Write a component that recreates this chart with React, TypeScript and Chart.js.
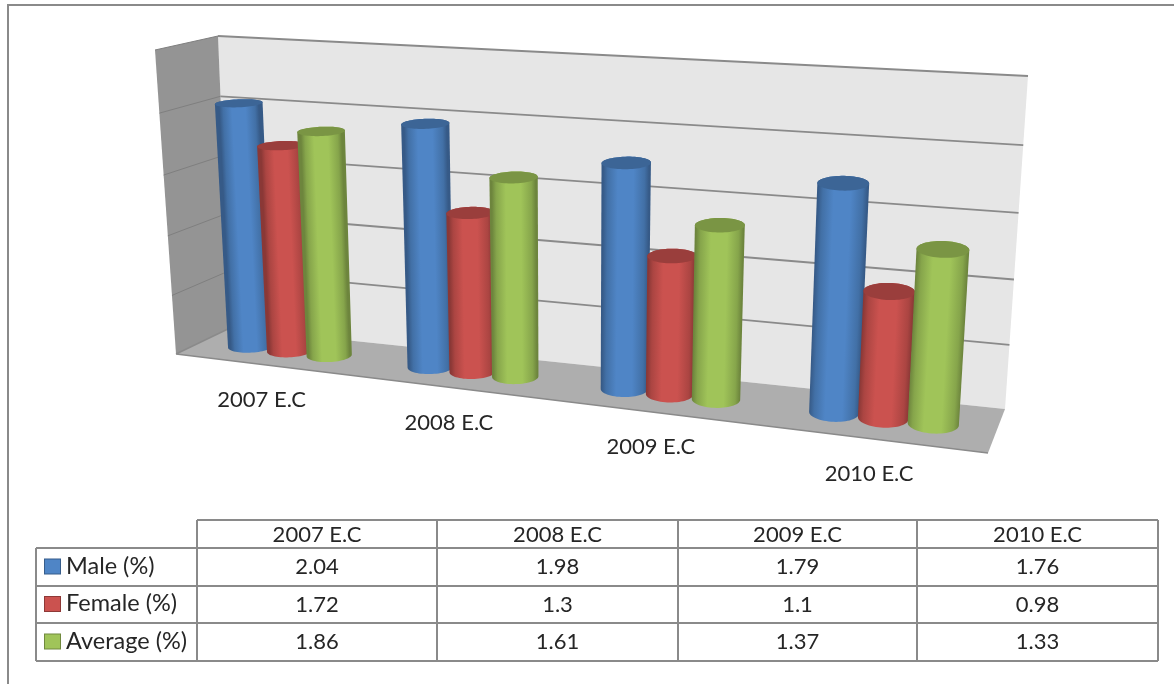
import React, { useEffect, useRef } from "react";
import { Chart, BarController, registerables } from "chart.js";

Chart.register(...registerables);

const categories = ["2007 E.C", "2008 E.C", "2009 E.C", "2010 E.C"];
const maleValues = [2.04, 1.98, 1.79, 1.76];
const femaleValues = [1.72, 1.3, 1.1, 0.98];
const averageValues = [1.86, 1.61, 1.37, 1.33];
const seriesNames = ["Male (%)", "Female (%)", "Average (%)"];
const seriesColors = ["#4F85C6", "#CB524F", "#A0C459"];
const tableValueLabels = [
  ["2.04", "1.98", "1.79", "1.76"],
  ["1.72", "1.3", "1.1", "0.98"],
  ["1.86", "1.61", "1.37", "1.33"],
];

type P = [number, number];
const FONT = "Lato, 'Open Sans', sans-serif";
const LINE = "#8a8a8a";

// Projective map from the unit square to a quad (order: u0v0, u1v0, u1v1, u0v1)
function makeHomography(q: P[]) {
  const [p0, p1, p2, p3] = q;
  const dx1 = p1[0] - p2[0], dx2 = p3[0] - p2[0], sx = p0[0] - p1[0] + p2[0] - p3[0];
  const dy1 = p1[1] - p2[1], dy2 = p3[1] - p2[1], sy = p0[1] - p1[1] + p2[1] - p3[1];
  const den = dx1 * dy2 - dx2 * dy1;
  const g = (sx * dy2 - dx2 * sy) / den;
  const h = (dx1 * sy - sx * dy1) / den;
  const a = p1[0] - p0[0] + g * p1[0], b = p3[0] - p0[0] + h * p3[0], c = p0[0];
  const d = p1[1] - p0[1] + g * p1[1], e = p3[1] - p0[1] + h * p3[1], f = p0[1];
  return (u: number, v: number): P => {
    const w = g * u + h * v + 1;
    return [(a * u + b * v + c) / w, (d * u + e * v + f) / w];
  };
}

const backPlane = makeHomography([[230, 328], [1005, 409], [1028, 76], [218, 36]]);
const frontPlane = makeHomography([[176, 354], [988, 453], [1009, 108], [155, 50]]);

function project(uRaw: number, v: number, depth: number): P {
  const u = uRaw - 0.018 * uRaw * (1 - uRaw);
  const b = backPlane(u, v);
  const f = frontPlane(u, v);
  return [b[0] + (f[0] - b[0]) * depth, b[1] + (f[1] - b[1]) * depth];
}

function shade(hex: string, k: number) {
  const n = parseInt(hex.slice(1), 16);
  const c = [(n >> 16) & 255, (n >> 8) & 255, n & 255].map((x) =>
    Math.round(k < 1 ? x * k : x + (255 - x) * (k - 1))
  );
  return `rgb(${c[0]},${c[1]},${c[2]})`;
}

function hull(points: P[]): P[] {
  const pts = [...points].sort((a, b) => a[0] - b[0] || a[1] - b[1]);
  const cross = (o: P, a: P, b: P) => (a[0] - o[0]) * (b[1] - o[1]) - (a[1] - o[1]) * (b[0] - o[0]);
  const lo: P[] = [], up: P[] = [];
  for (const p of pts) {
    while (lo.length > 1 && cross(lo[lo.length - 2], lo[lo.length - 1], p) <= 0) lo.pop();
    lo.push(p);
  }
  for (let i = pts.length - 1; i >= 0; i--) {
    const p = pts[i];
    while (up.length > 1 && cross(up[up.length - 2], up[up.length - 1], p) <= 0) up.pop();
    up.push(p);
  }
  return lo.slice(0, -1).concat(up.slice(0, -1));
}

function polygon(ctx: CanvasRenderingContext2D, pts: P[]) {
  ctx.beginPath();
  pts.forEach((p, i) => (i ? ctx.lineTo(p[0], p[1]) : ctx.moveTo(p[0], p[1])));
  ctx.closePath();
}

const DEPTH_RADIUS = 0.22;

function drawCylinder(ctx: CanvasRenderingContext2D, chart: any, el: any, color: string) {
  const area = chart.chartArea;
  const uc = (el.x - area.left) / area.width;
  const ru = el.width / 2 / area.width;
  const vTop = (area.bottom - el.y) / area.height;
  const vBase = (area.bottom - el.base) / area.height;
  const ring = (v: number) => {
    const out: P[] = [];
    for (let i = 0; i < 64; i++) {
      const t = (i / 64) * Math.PI * 2;
      out.push(project(uc + ru * Math.cos(t), v, 0.5 + DEPTH_RADIUS * Math.sin(t)));
    }
    return out;
  };
  const top = ring(vTop);
  const bottom = ring(vBase);
  const ct = project(uc, vTop, 0.5);
  const cb = project(uc, vBase, 0.5);
  const ax = cb[0] - ct[0], ay = cb[1] - ct[1];
  const len = Math.hypot(ax, ay);
  const nx = ay / len, ny = -ax / len;
  const half = (Math.abs(project(uc + ru, vTop, 0.5)[0] - ct[0]) + Math.abs(project(uc + ru, vBase, 0.5)[0] - cb[0])) / 2;
  const mx = (ct[0] + cb[0]) / 2, my = (ct[1] + cb[1]) / 2;
  const g = ctx.createLinearGradient(mx - nx * half, my - ny * half, mx + nx * half, my + ny * half);
  g.addColorStop(0, shade(color, 0.68));
  g.addColorStop(0.1, shade(color, 0.84));
  g.addColorStop(0.32, shade(color, 1));
  g.addColorStop(0.66, shade(color, 1));
  g.addColorStop(0.9, shade(color, 0.84));
  g.addColorStop(1, shade(color, 0.68));
  polygon(ctx, hull(top.concat(bottom)));
  ctx.fillStyle = g;
  ctx.fill();
  polygon(ctx, top);
  ctx.fillStyle = shade(color, 0.76);
  ctx.fill();
}

class Cylinder3DController extends BarController {
  static id = "cylinder3d";
  static defaults = { ...BarController.defaults };
  draw() {
    if (this.index !== 0) return;
    const chart: any = this.chart;
    const ctx = chart.ctx;
    const metas = chart.getSortedVisibleDatasetMetas();
    metas.forEach((meta: any) => {
      meta.data.forEach((el: any) => {
        drawCylinder(ctx, chart, el, el.options.backgroundColor);
      });
    });
  }
}
Chart.register(Cylinder3DController as any);

const scenePlugin = {
  id: "scene3d",
  beforeDatasetsDraw(chart: any) {
    const ctx: CanvasRenderingContext2D = chart.ctx;
    const yScale = chart.scales.y;
    const area = chart.chartArea;
    ctx.save();
    // page frame
    ctx.fillStyle = "#ffffff";
    ctx.fillRect(0, 0, chart.width, chart.height);
    ctx.strokeStyle = LINE;
    ctx.lineWidth = 2;
    ctx.beginPath();
    ctx.moveTo(8, 684);
    ctx.lineTo(8, 5);
    ctx.lineTo(1174, 5);
    ctx.stroke();

    // back wall, floor and side wall
    polygon(ctx, [project(0, 0, 0), project(1, 0, 0), project(1, 1, 0), project(0, 1, 0)]);
    ctx.fillStyle = "#e6e6e6";
    ctx.fill();
    polygon(ctx, [project(0, 0, 1), project(0, 0, 0), project(1, 0, 0), project(1, 0, 1)]);
    ctx.fillStyle = "#aeaeae";
    ctx.fill();
    polygon(ctx, [project(0, 0, 1), project(0, 0, 0), project(0, 1, 0), project(0, 1, 1)]);
    ctx.fillStyle = "#949494";
    ctx.fill();

    // grid lines, from the value scale
    yScale.ticks.forEach((t: any) => {
      const v = (area.bottom - yScale.getPixelForValue(t.value)) / area.height;
      if (v <= 0.001) return;
      const a = project(0, v, 1), b = project(0, v, 0), c = project(1, v, 0);
      ctx.strokeStyle = "#7f7f7f";
      ctx.lineWidth = 1;
      ctx.beginPath();
      ctx.moveTo(a[0], a[1]);
      ctx.lineTo(b[0], b[1]);
      ctx.stroke();
      ctx.strokeStyle = LINE;
      ctx.lineWidth = 1.8;
      ctx.beginPath();
      ctx.moveTo(b[0], b[1]);
      ctx.lineTo(c[0], c[1]);
      ctx.stroke();
    });
    const fa = project(0, 0, 1), fb = project(1, 0, 1), fc = project(0, 0, 0);
    ctx.strokeStyle = LINE;
    ctx.lineWidth = 1.5;
    ctx.beginPath();
    ctx.moveTo(fa[0], fa[1]);
    ctx.lineTo(fb[0], fb[1]);
    ctx.moveTo(fa[0], fa[1]);
    ctx.lineTo(fc[0], fc[1]);
    ctx.stroke();
    ctx.restore();
  },
  afterDatasetsDraw(chart: any) {
    const ctx: CanvasRenderingContext2D = chart.ctx;
    const xScale = chart.scales.x;
    const area = chart.chartArea;
    const labels: string[] = chart.data.labels;
    ctx.save();
    ctx.fillStyle = "#262626";
    ctx.textAlign = "center";
    ctx.textBaseline = "middle";
    ctx.font = `22px ${FONT}`;
    // category labels under the floor's front edge
    labels.forEach((label, i) => {
      const u = (xScale.getPixelForValue(i) - area.left) / area.width;
      const p = project(u, 0, 1);
      ctx.fillText(label, p[0] - 3, p[1] + 35);
    });

    // data table
    const colX = [197, 437, 678, 917, 1158];
    const rowY = [520, 548, 586, 623, 661];
    const firstX = 36;
    ctx.strokeStyle = LINE;
    ctx.lineWidth = 2;
    ctx.beginPath();
    ctx.moveTo(colX[0], rowY[0]);
    ctx.lineTo(colX[4], rowY[0]);
    rowY.slice(1).forEach((y) => {
      ctx.moveTo(firstX, y);
      ctx.lineTo(colX[4], y);
    });
    colX.forEach((x) => {
      ctx.moveTo(x, rowY[0]);
      ctx.lineTo(x, rowY[4]);
    });
    ctx.moveTo(firstX, rowY[1]);
    ctx.lineTo(firstX, rowY[4]);
    ctx.stroke();

    labels.forEach((label, c) => {
      ctx.fillText(label, (colX[c] + colX[c + 1]) / 2, (rowY[0] + rowY[1]) / 2 + 1);
    });
    tableValueLabels.forEach((row, r) => {
      const cy = (rowY[r + 1] + rowY[r + 2]) / 2;
      ctx.font = `22px ${FONT}`;
      row.forEach((txt, c) => {
        ctx.fillText(txt, (colX[c] + colX[c + 1]) / 2, cy);
      });
      const color = chart.data.datasets[r].backgroundColor;
      ctx.fillStyle = color;
      ctx.fillRect(44.5, cy - 8, 16, 15);
      ctx.strokeStyle = shade(color, 0.7);
      ctx.lineWidth = 1;
      ctx.strokeRect(44.5, cy - 8, 16, 15);
      ctx.fillStyle = "#262626";
      ctx.textAlign = "left";
      ctx.font = `23.5px ${FONT}`;
      ctx.fillText(chart.data.datasets[r].label, 66, cy - 1);
      ctx.textAlign = "center";
    });
    ctx.restore();
  },
};

export default function App() {
  const ref = useRef<HTMLCanvasElement>(null);
  useEffect(() => {
    if (!ref.current) return;
    const seriesValues = [maleValues, femaleValues, averageValues];
    const chart = new Chart(ref.current, {
      type: "cylinder3d" as any,
      data: {
        labels: categories,
        datasets: seriesNames.map((name, i) => ({
          label: name,
          data: seriesValues[i],
          backgroundColor: seriesColors[i],
          clip: false as any,
        })),
      },
      options: {
        responsive: false,
        animation: false,
        layout: { padding: { left: 150, right: 150, top: 30, bottom: 230 } },
        datasets: { cylinder3d: { categoryPercentage: 0.67, barPercentage: 1.0 } } as any,
        plugins: { legend: { display: false }, tooltip: { enabled: false }, title: { display: false } },
        scales: {
          x: { display: false },
          y: { display: false, min: 0, max: 2.5, ticks: { stepSize: 0.5 } },
        },
      },
      plugins: [scenePlugin as any],
    });
    return () => chart.destroy();
  }, []);
  return (
    <canvas
      ref={ref}
      width={1174}
      height={684}
      style={{ position: "absolute", left: 0, top: 0, display: "block" }}
    />
  );
}
